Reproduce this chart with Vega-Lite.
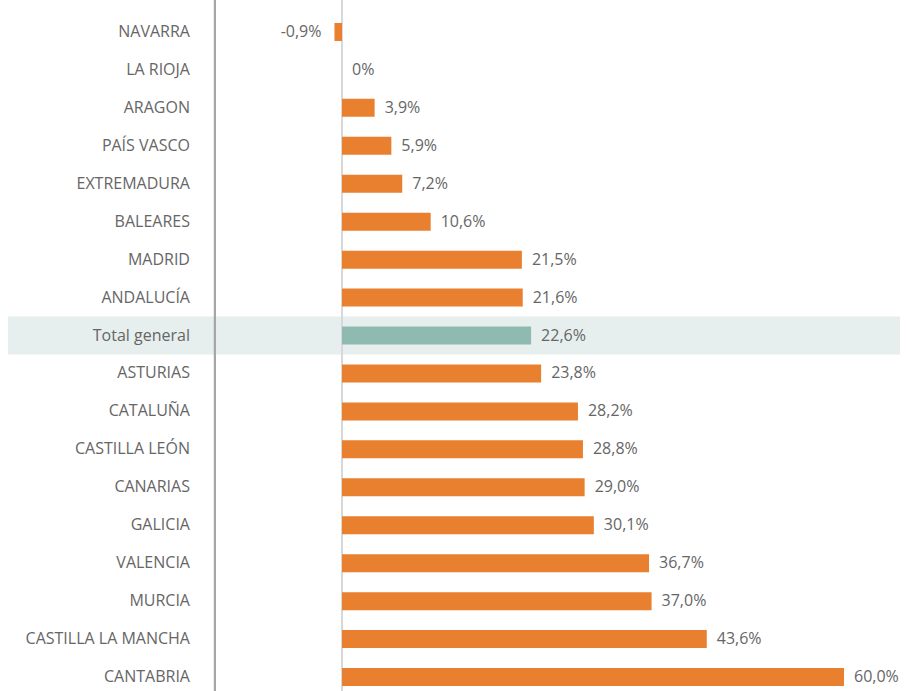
{
  "$schema": "https://vega.github.io/schema/vega-lite/v6.json",
  "width": 906,
  "height": 691,
  "padding": 0,
  "autosize": {"type": "none"},
  "config": {"view": {"stroke": null}, "text": {"font": "Open Sans"}},
  "data": {"values": [
    {"region": "NAVARRA", "value": -0.9, "label": "-0,9%", "total": false},
    {"region": "LA RIOJA", "value": 0, "label": "0%", "total": false},
    {"region": "ARAGON", "value": 3.9, "label": "3,9%", "total": false},
    {"region": "PAÍS VASCO", "value": 5.9, "label": "5,9%", "total": false},
    {"region": "EXTREMADURA", "value": 7.2, "label": "7,2%", "total": false},
    {"region": "BALEARES", "value": 10.6, "label": "10,6%", "total": false},
    {"region": "MADRID", "value": 21.5, "label": "21,5%", "total": false},
    {"region": "ANDALUCÍA", "value": 21.6, "label": "21,6%", "total": false},
    {"region": "Total general", "value": 22.6, "label": "22,6%", "total": true},
    {"region": "ASTURIAS", "value": 23.8, "label": "23,8%", "total": false},
    {"region": "CATALUÑA", "value": 28.2, "label": "28,2%", "total": false},
    {"region": "CASTILLA LEÓN", "value": 28.8, "label": "28,8%", "total": false},
    {"region": "CANARIAS", "value": 29.0, "label": "29,0%", "total": false},
    {"region": "GALICIA", "value": 30.1, "label": "30,1%", "total": false},
    {"region": "VALENCIA", "value": 36.7, "label": "36,7%", "total": false},
    {"region": "MURCIA", "value": 37.0, "label": "37,0%", "total": false},
    {"region": "CASTILLA LA MANCHA", "value": 43.6, "label": "43,6%", "total": false},
    {"region": "CANTABRIA", "value": 60.0, "label": "60,0%", "total": false}
  ]},
  "encoding": {
    "y": {"field": "region", "type": "nominal",
          "sort": ["NAVARRA", "LA RIOJA", "ARAGON", "PAÍS VASCO", "EXTREMADURA", "BALEARES", "MADRID", "ANDALUCÍA", "Total general", "ASTURIAS", "CATALUÑA", "CASTILLA LEÓN", "CANARIAS", "GALICIA", "VALENCIA", "MURCIA", "CASTILLA LA MANCHA", "CANTABRIA"],
          "scale": {"paddingInner": 0, "paddingOuter": 0, "range": [13, 696]}, "axis": null}
  },
  "layer": [
    {
      "transform": [{"filter": "datum.total"}],
      "mark": {"type": "rect", "color": "#E6EFED"},
      "encoding": {
        "x": {"datum": -39.92, "type": "quantitative",
              "scale": {"domain": [-40.876, 67.41], "nice": false, "zero": false}, "axis": null},
        "x2": {"datum": 66.69}
      }
    },
    {
      "mark": {"type": "rule", "color": "#D9D9D9", "strokeWidth": 1},
      "encoding": {"x": {"datum": 0, "type": "quantitative"}, "y": null}
    },
    {
      "mark": {"type": "rule", "color": "#A6A6A6", "strokeWidth": 2},
      "encoding": {"x": {"datum": -15.18, "type": "quantitative"}, "y": null}
    },
    {
      "mark": {"type": "bar", "size": 18},
      "encoding": {
        "x": {"field": "value", "type": "quantitative"},
        "x2": {"datum": 0},
        "color": {"condition": {"test": "datum.total", "value": "#8FBAAF"}, "value": "#E8802F"}
      }
    },
    {
      "transform": [{"filter": "datum.value >= 0"}],
      "mark": {"type": "text", "align": "left", "dx": 10, "fontSize": 16, "color": "#666666"},
      "encoding": {"x": {"field": "value", "type": "quantitative"}, "text": {"field": "label"}}
    },
    {
      "transform": [{"filter": "datum.value < 0"}],
      "mark": {"type": "text", "align": "right", "dx": -13, "fontSize": 16, "color": "#666666"},
      "encoding": {"x": {"field": "value", "type": "quantitative"}, "text": {"field": "label"}}
    },
    {
      "mark": {"type": "text", "align": "right", "fontSize": 16, "color": "#666666"},
      "encoding": {"x": {"datum": -18.17, "type": "quantitative"}, "text": {"field": "region"}}
    }
  ]
}
